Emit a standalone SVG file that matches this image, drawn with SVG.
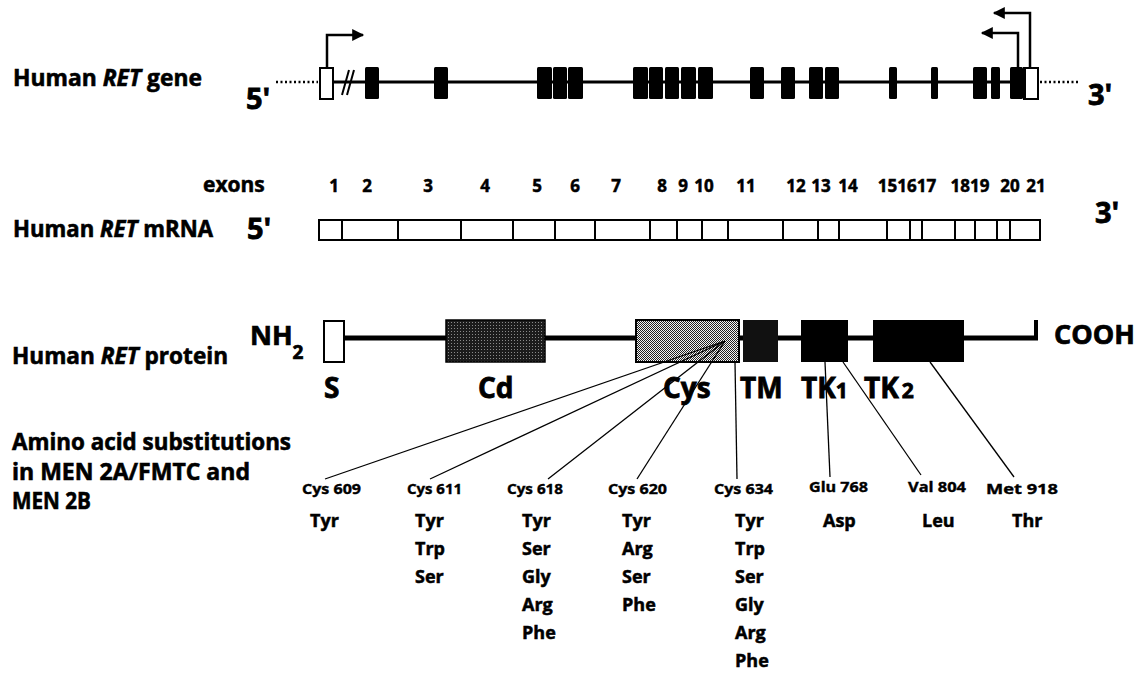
<svg xmlns="http://www.w3.org/2000/svg" width="1141" height="673" viewBox="0 0 1141 673">
<style>
text{font-family:"Open Sans","Noto Sans","DejaVu Sans",sans-serif;font-weight:700;fill:#000;stroke:#000;stroke-width:0.6}
.lbl{font-size:23px}
.big{font-size:29px;stroke-width:0.8}
.dom{font-size:28px;stroke-width:0.8}
.num{font-size:17px;text-anchor:middle;stroke-width:0.5}
.mut{font-size:15px;stroke-width:0.4}
.aa{font-size:18px;stroke-width:0.5}
.ex{fill:#000}
.thin{stroke:#000;stroke-width:1.3;fill:none}
.gl{stroke:#000;stroke-width:3;fill:none}
.dot{stroke:#000;stroke-width:2.5;stroke-dasharray:2 2.5;fill:none}
.arr{stroke:#000;stroke-width:2.5;fill:none;marker-end:url(#ah)}
.box{fill:#fff;stroke:#000;stroke-width:2}
</style>
<defs>
<marker id="ah" viewBox="0 0 10 10" refX="9" refY="5" markerUnits="userSpaceOnUse" markerWidth="18" markerHeight="12" orient="auto">
<path d="M0,0 L10,5 L0,10 z" fill="#000"/>
</marker>
<pattern id="dark" width="3" height="3" patternUnits="userSpaceOnUse"><rect width="3" height="3" fill="#1c1c1c"/><rect x="1" y="1" width="1" height="1" fill="#8a8a8a"/></pattern>
<pattern id="check" width="2" height="2" patternUnits="userSpaceOnUse"><rect width="2" height="2" fill="#f4f4f4"/><rect width="1" height="1" fill="#222"/><rect x="1" y="1" width="1" height="1" fill="#222"/></pattern>
</defs>
<rect width="1141" height="673" fill="#fff"/>

<g id="labels">
<text class="lbl" x="13" y="86" textLength="189" lengthAdjust="spacingAndGlyphs">Human <tspan font-style="italic">RET</tspan> gene</text>
<text class="lbl" x="13" y="237" textLength="200" lengthAdjust="spacingAndGlyphs">Human <tspan font-style="italic">RET</tspan> mRNA</text>
<text class="lbl" x="12" y="364" textLength="216" lengthAdjust="spacingAndGlyphs">Human <tspan font-style="italic">RET</tspan> protein</text>
<text class="lbl" x="12" y="450" textLength="279" lengthAdjust="spacingAndGlyphs">Amino acid substitutions</text>
<text class="lbl" x="12" y="480" textLength="238" lengthAdjust="spacingAndGlyphs">in MEN 2A/FMTC and</text>
<text class="lbl" x="12" y="509" textLength="79" lengthAdjust="spacingAndGlyphs">MEN 2B</text>
</g>

<g id="gene">
<text class="big" x="246" y="109">5'</text>
<text class="big" x="1088" y="105">3'</text>
<line class="dot" x1="276" y1="82" x2="318" y2="82"/>
<line class="dot" x1="1040" y1="82" x2="1078" y2="82"/>
<line class="gl" x1="333" y1="82" x2="1023" y2="82"/>
<line stroke="#000" stroke-width="2" x1="342" y1="95" x2="349" y2="70"/>
<line stroke="#000" stroke-width="2" x1="347" y1="95" x2="354" y2="70"/>
<rect class="box" x="320" y="68" width="13" height="31"/>
<rect class="ex" x="365" y="67" width="14" height="32" rx="1.5"/>
<rect class="ex" x="434" y="67" width="14" height="32" rx="1.5"/>
<rect class="ex" x="537" y="67" width="15" height="32" rx="1.5"/>
<rect class="ex" x="553" y="67" width="14" height="32" rx="1.5"/>
<rect class="ex" x="568" y="67" width="15" height="32" rx="1.5"/>
<rect class="ex" x="633" y="67" width="15" height="32" rx="1.5"/>
<rect class="ex" x="649" y="67" width="14" height="32" rx="1.5"/>
<rect class="ex" x="665" y="67" width="14" height="32" rx="1.5"/>
<rect class="ex" x="681" y="67" width="15" height="32" rx="1.5"/>
<rect class="ex" x="698" y="67" width="15" height="32" rx="1.5"/>
<rect class="ex" x="750" y="67" width="14" height="32" rx="1.5"/>
<rect class="ex" x="781" y="67" width="14" height="32" rx="1.5"/>
<rect class="ex" x="809" y="67" width="14" height="32" rx="1.5"/>
<rect class="ex" x="825" y="67" width="14" height="32" rx="1.5"/>
<rect class="ex" x="889" y="67" width="8" height="32" rx="1.5"/>
<rect class="ex" x="931" y="67" width="7" height="32" rx="1.5"/>
<rect class="ex" x="973" y="67" width="14" height="32" rx="1.5"/>
<rect class="ex" x="991" y="67" width="9" height="32" rx="1.5"/>
<rect class="ex" x="1010" y="67" width="13" height="32" rx="1.5"/>
<rect class="box" x="1024" y="68" width="14" height="31"/>
<rect class="ex" x="1023" y="67" width="3" height="32"/>
<path class="arr" d="M327,68 V35 H363"/>
<path class="arr" d="M1018,67 V33 H982"/>
<path class="arr" d="M1030,67 V13 H994"/>
</g>

<g id="exon-numbers">
<text class="lbl" x="203" y="192" style="font-size:21px;stroke-width:0.5">exons</text>
<text class="num" x="334" y="192">1</text>
<text class="num" x="367" y="192">2</text>
<text class="num" x="428" y="192">3</text>
<text class="num" x="485" y="192">4</text>
<text class="num" x="537" y="192">5</text>
<text class="num" x="575" y="192">6</text>
<text class="num" x="616" y="192">7</text>
<text class="num" x="662" y="192">8</text>
<text class="num" x="683" y="192">9</text>
<text class="num" x="704" y="192">10</text>
<text class="num" x="746" y="192">11</text>
<text class="num" x="796" y="192">12</text>
<text class="num" x="821" y="192">13</text>
<text class="num" x="848" y="192">14</text>
<text class="num" x="907" y="192">151617</text>
<text class="num" x="970" y="192">1819</text>
<text class="num" x="1010" y="192">20</text>
<text class="num" x="1036" y="192">21</text>
</g>

<g id="mrna">
<text class="big" x="247" y="239">5'</text>
<text class="big" x="1095" y="223">3'</text>
<rect class="box" x="319" y="220" width="721" height="20"/>
<path stroke="#000" stroke-width="2" d="M342,220V240M398,220V240M461,220V240M513,220V240M555,220V240M595,220V240M650,220V240M677,220V240M702,220V240M728,220V240M783,220V240M818,220V240M839,220V240M887,220V240M910,220V240M922,220V240M955,220V240M975,220V240M997,220V240M1010,220V240"/>
</g>

<g id="protein">
<text style="font-size:27px;stroke-width:0.7" x="250" y="345">NH<tspan style="font-size:19px" dy="14">2</tspan></text>
<line stroke="#000" stroke-width="5" x1="344" y1="338" x2="1038" y2="338"/>
<line stroke="#000" stroke-width="4" x1="1036" y1="320" x2="1036" y2="340"/>
<text style="font-size:27px;stroke-width:0.7" x="1054" y="344">COOH</text>
</g>
<g id="S"><rect class="box" x="324" y="321" width="20" height="41"/><text class="dom" x="324" y="398">S</text></g>
<g id="Cd"><rect x="446" y="320" width="99" height="42" fill="url(#dark)" stroke="#000" stroke-width="1.5"/><text class="dom" x="478" y="398">Cd</text></g>
<g id="Cys"><rect x="636" y="320" width="103" height="42" fill="url(#check)" stroke="#000" stroke-width="2"/><text class="dom" x="663" y="398">Cys</text></g>
<g id="TM"><rect x="743" y="320" width="35" height="42" fill="#111"/><text class="dom" x="740" y="398">TM</text></g>
<g id="TK1"><rect x="801" y="320" width="47" height="42" fill="#000"/><text class="dom" x="801" y="398">TK<tspan style="font-size:21px">1</tspan></text></g>
<g id="TK2"><rect x="873" y="320" width="91" height="42" fill="#000"/><text class="dom" x="864" y="398">TK<tspan style="font-size:21px" dx="3">2</tspan></text></g>

<g id="connectors">
<line class="thin" x1="325" y1="479" x2="725" y2="341"/>
<line class="thin" x1="430" y1="479" x2="725" y2="341"/>
<line class="thin" x1="548" y1="479" x2="725" y2="341"/>
<line class="thin" x1="637" y1="479" x2="725" y2="341"/>
<line class="thin" x1="737" y1="479" x2="735" y2="362"/>
<line class="thin" x1="830" y1="477" x2="825" y2="362"/>
<line class="thin" x1="921" y1="475" x2="843" y2="362"/>
<line class="thin" x1="1014" y1="477" x2="930" y2="362"/>
</g>

<g id="mutations">
<text class="mut" x="302" y="494" textLength="59" lengthAdjust="spacingAndGlyphs">Cys 609</text>
<text class="mut" x="407" y="494" textLength="55" lengthAdjust="spacingAndGlyphs">Cys 611</text>
<text class="mut" x="507" y="494" textLength="56" lengthAdjust="spacingAndGlyphs">Cys 618</text>
<text class="mut" x="608" y="494" textLength="59" lengthAdjust="spacingAndGlyphs">Cys 620</text>
<text class="mut" x="714" y="494" textLength="59" lengthAdjust="spacingAndGlyphs">Cys 634</text>
<text class="mut" x="809" y="492" textLength="59" lengthAdjust="spacingAndGlyphs">Glu 768</text>
<text class="mut" x="908" y="492" textLength="58" lengthAdjust="spacingAndGlyphs">Val 804</text>
<text class="mut" x="986" y="494" textLength="72" lengthAdjust="spacingAndGlyphs">Met 918</text>

<text class="aa" x="310" y="527">Tyr</text>

<text class="aa" x="415" y="527">Tyr</text>
<text class="aa" x="415" y="555">Trp</text>
<text class="aa" x="415" y="583">Ser</text>

<text class="aa" x="522" y="527">Tyr</text>
<text class="aa" x="522" y="555">Ser</text>
<text class="aa" x="522" y="583">Gly</text>
<text class="aa" x="522" y="611">Arg</text>
<text class="aa" x="522" y="639">Phe</text>

<text class="aa" x="622" y="527">Tyr</text>
<text class="aa" x="622" y="555">Arg</text>
<text class="aa" x="622" y="583">Ser</text>
<text class="aa" x="622" y="611">Phe</text>

<text class="aa" x="735" y="527">Tyr</text>
<text class="aa" x="735" y="555">Trp</text>
<text class="aa" x="735" y="583">Ser</text>
<text class="aa" x="735" y="611">Gly</text>
<text class="aa" x="735" y="639">Arg</text>
<text class="aa" x="735" y="667">Phe</text>

<text class="aa" x="823" y="527">Asp</text>
<text class="aa" x="922" y="527">Leu</text>
<text class="aa" x="1012" y="527">Thr</text>
</g>
</svg>
